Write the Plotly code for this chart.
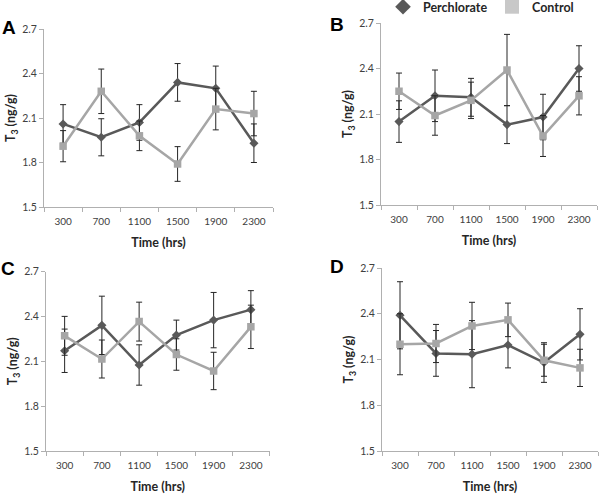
import plotly.graph_objects as go

# ---------------- data ----------------
categories = ['300', '700', '1100', '1500', '1900', '2300']
y_ticks = [1.5, 1.8, 2.1, 2.4, 2.7]
panel_letters = ['A', 'B', 'C', 'D']
series_names = ['Perchlorate', 'Control']

A_perch = [2.06, 1.97, 2.07, 2.34, 2.30, 1.93]
A_perch_err = [0.13, 0.125, 0.12, 0.127, 0.15, 0.13]
A_ctrl = [1.91, 2.28, 1.98, 1.79, 2.16, 2.13]
A_ctrl_err = [0.105, 0.15, 0.10, 0.117, 0.14, 0.15]

B_perch = [2.05, 2.22, 2.21, 2.03, 2.08, 2.40]
B_perch_err = [0.137, 0.17, 0.125, 0.125, 0.15, 0.15]
B_ctrl = [2.25, 2.09, 2.19, 2.39, 1.955, 2.22]
B_ctrl_err = [0.12, 0.13, 0.12, 0.235, 0.135, 0.126]

C_perch = [2.17, 2.34, 2.075, 2.275, 2.375, 2.445]
C_perch_err = [0.145, 0.195, 0.135, 0.10, 0.185, 0.127]
C_ctrl = [2.27, 2.115, 2.365, 2.145, 2.035, 2.33]
C_ctrl_err = [0.13, 0.127, 0.13, 0.105, 0.125, 0.145]

D_perch = [2.39, 2.14, 2.135, 2.195, 2.08, 2.265]
D_perch_err = [0.22, 0.15, 0.22, 0.15, 0.13, 0.168]
D_ctrl = [2.20, 2.205, 2.32, 2.36, 2.095, 2.045]
D_ctrl_err = [0.2, 0.125, 0.155, 0.11, 0.105, 0.122]

panels = [
    (A_perch, A_perch_err, A_ctrl, A_ctrl_err),
    (B_perch, B_perch_err, B_ctrl, B_ctrl_err),
    (C_perch, C_perch_err, C_ctrl, C_ctrl_err),
    (D_perch, D_perch_err, D_ctrl, D_ctrl_err),
]

# ---------------- style ----------------
W, H = 600, 495
PERCH_COL = '#595959'
CTRL_COL = '#a6a6a6'
ERR_COL = '#262626'
AXIS_COL = '#b0b0b0'
TEXT_COL = '#404040'
FONT = 'Lato'

# plot-area pixel boxes (left, right, top, bottom)
boxes = [
    (44, 273, 29, 207),
    (381, 597, 23, 205),
    (46, 269.5, 271.5, 451),
    (382, 598, 268, 451),
]
letter_pos = [(9, 27), (337, 25), (8, 268), (337, 266)]

fig = go.Figure()

for i, (perch, perch_err, ctrl, ctrl_err) in enumerate(panels):
    xa = 'x' if i == 0 else f'x{i+1}'
    ya = 'y' if i == 0 else f'y{i+1}'
    fig.add_trace(go.Scatter(
        x=categories, y=perch, xaxis=xa, yaxis=ya, mode='lines+markers',
        name=series_names[0], showlegend=False, hoverinfo='skip',
        line=dict(color=PERCH_COL, width=2.5),
        marker=dict(symbol='diamond', size=7, color=PERCH_COL),
        error_y=dict(type='data', array=perch_err, color=ERR_COL, thickness=1, width=3),
    ))
    fig.add_trace(go.Scatter(
        x=categories, y=ctrl, xaxis=xa, yaxis=ya, mode='lines+markers',
        name=series_names[1], showlegend=False, hoverinfo='skip',
        line=dict(color=CTRL_COL, width=2.5),
        marker=dict(symbol='square', size=7.5, color=CTRL_COL),
        error_y=dict(type='data', array=ctrl_err, color=ERR_COL, thickness=1, width=3),
    ))

# legend-only entries (markers only, as in the reference)
fig.add_trace(go.Scatter(x=[None], y=[None], mode='markers',
                         name=f'<b>{series_names[0]}</b>',
                         marker=dict(symbol='diamond', size=12, color=PERCH_COL)))
fig.add_trace(go.Scatter(x=[None], y=[None], mode='markers',
                         name=f'<b>{series_names[1]}</b>',
                         marker=dict(symbol='square', size=14, color='#c8c8c8')))

layout = dict(
    width=W, height=H,
    margin=dict(l=0, r=0, t=0, b=0, autoexpand=False),
    paper_bgcolor='white', plot_bgcolor='white',
    font=dict(family=FONT, color=TEXT_COL, size=10),
    hovermode=False,
    legend=dict(orientation='h', x=383 / W, y=1.016, xanchor='left', yanchor='top',
                entrywidth=64, entrywidthmode='pixels',
                font=dict(family=FONT, size=12.5, color='#262626'),
                bgcolor='rgba(0,0,0,0)'),
    annotations=[],
)

for i, (l, r, t, b) in enumerate(boxes):
    xk = 'xaxis' if i == 0 else f'xaxis{i+1}'
    yk = 'yaxis' if i == 0 else f'yaxis{i+1}'
    ya = 'y' if i == 0 else f'y{i+1}'
    xa = 'x' if i == 0 else f'x{i+1}'
    layout[xk] = dict(
        domain=[l / W, r / W], anchor=ya, type='category',
        categoryorder='array', categoryarray=categories,
        range=[-0.5, len(categories) - 0.5], automargin=False,
        showline=True, linecolor=AXIS_COL, linewidth=1,
        ticks='outside', ticklen=4, tickcolor=AXIS_COL, tickson='boundaries',
        tickangle=0, ticklabelstandoff=5,
        showgrid=False, zeroline=False,
        tickfont=dict(family=FONT, size=10, color=TEXT_COL),
        title=dict(text='<b>Time (hrs)</b>', standoff=12,
                   font=dict(family=FONT, size=12.5, color='#262626')),
    )
    layout[yk] = dict(
        domain=[1 - b / H, 1 - t / H], anchor=xa,
        range=[1.5, 2.7], tickvals=y_ticks, tickformat='.1f', automargin=False,
        showline=True, linecolor=AXIS_COL, linewidth=1,
        ticks='outside', ticklen=4, tickcolor=AXIS_COL,
        showgrid=False, zeroline=False,
        tickfont=dict(family=FONT, size=10.5, color=TEXT_COL),
        title=dict(text='<b>T<sub>3</sub> (ng/g)</b>', standoff=3,
                   font=dict(family=FONT, size=12.5, color='#262626')),
    )
    lx, ly = letter_pos[i]
    layout['annotations'].append(dict(
        text=f'<b>{panel_letters[i]}</b>', x=lx / W, y=1 - ly / H,
        xref='paper', yref='paper', xanchor='center', yanchor='middle',
        showarrow=False, font=dict(family='Liberation Sans', size=19, color='black'),
    ))

fig.update_layout(**layout)
fig.write_html('out.html', config={'displayModeBar': False},
               post_script="document.body.style.margin='0';")
